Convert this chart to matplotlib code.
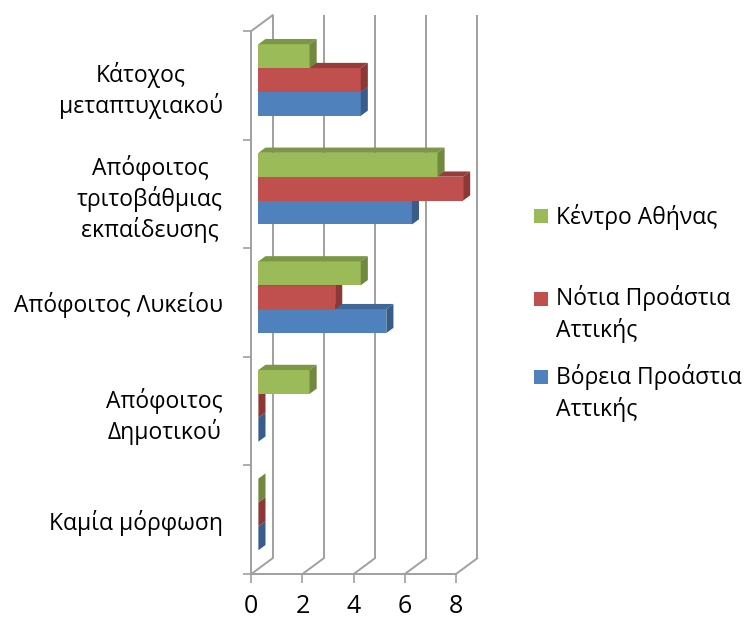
import matplotlib
matplotlib.use('Agg')
import matplotlib.pyplot as plt
from matplotlib.patches import Polygon, Rectangle
import numpy as np

plt.rcParams['font.family'] = ['Open Sans', 'DejaVu Sans']

# --- data -------------------------------------------------------------
categories = ["Καμία μόρφωση", "Απόφοιτος\nΔημοτικού", "Απόφοιτος Λυκείου",
              "Απόφοιτος\nτριτοβάθμιας\nεκπαίδευσης", "Κάτοχος\nμεταπτυχιακού"]
series_names = ["Βόρεια Προάστια\nΑττικής", "Νότια Προάστια\nΑττικής", "Κέντρο Αθήνας"]
north = [0, 0, 5, 6, 4]
south = [0, 0, 3, 8, 4]
centre = [0, 2, 4, 7, 2]
x_ticks = [0, 2, 4, 6, 8]

front_colors = ['#4F81BD', '#C0504D', '#9BBB59']
side_colors = ['#385D8A', '#8C3836', '#71893F']
top_colors = ['#3F6899', '#973C39', '#7B9645']

FS = 16.5
FS_X = 18
W, H = 747, 619
fig = plt.figure(figsize=(W / 100, H / 100), dpi=100)
ax = fig.add_axes([251.3 / W, 1 - 574 / H, (456 - 251.3) / W, (574 - 31) / H])
ax.set_xlim(0, 8)
ax.set_ylim(0, len(categories))

# 3-D depth of the walls (data units) and of the bars (middle third)
DX, DY = 0.832, 0.145
BX, BY = DX / 3, DY / 3
bar_h = 0.22
grid_c = '#A0A0A0'
ncat = len(categories)

# back wall gridlines and floor edges
for x in x_ticks:
    ax.plot([x + DX, x + DX], [DY, ncat + DY], color=grid_c, lw=1.4,
            clip_on=False, zorder=1, solid_capstyle='butt')
    ax.plot([x, x + DX], [0, DY], color=grid_c, lw=1.4, clip_on=False, zorder=1)
ax.plot([0, DX], [ncat, ncat + DY], color=grid_c, lw=1.4, clip_on=False, zorder=1)

for s in ['top', 'right']:
    ax.spines[s].set_visible(False)
for s in ['left', 'bottom']:
    ax.spines[s].set_color(grid_c)
    ax.spines[s].set_linewidth(1.4)
    ax.spines[s].set_zorder(1)

# bars: front face via barh, plus top and side faces for depth
ypos = np.arange(ncat) + 0.5
offsets = [-bar_h, 0.0, bar_h]
for k, vals in enumerate([north, south, centre]):
    yb = ypos + offsets[k] + BY
    bars = ax.barh(yb, vals, left=BX, height=bar_h, color=front_colors[k],
                   zorder=3 + k, clip_on=False, linewidth=0)
    for rect in bars:
        x0 = rect.get_x()
        x1 = x0 + rect.get_width()
        y0 = rect.get_y()
        y1 = y0 + rect.get_height()
        top = Polygon([(x0, y1), (x1, y1), (x1 + BX, y1 + BY), (x0 + BX, y1 + BY)],
                      closed=True, facecolor=top_colors[k], edgecolor='none',
                      zorder=3 + k, clip_on=False)
        side = Polygon([(x1, y0), (x1 + BX, y0 + BY), (x1 + BX, y1 + BY), (x1, y1)],
                       closed=True, facecolor=side_colors[k], edgecolor='none',
                       zorder=3 + k, clip_on=False)
        ax.add_patch(top)
        ax.add_patch(side)

# axes ticks and labels
ax.set_xticks(x_ticks)
ax.set_xticklabels([str(t) for t in x_ticks])
ax.tick_params(axis='x', length=6.3, width=1.2, color=grid_c, pad=8, labelsize=FS_X)
ax.set_yticks(range(ncat + 1))
ax.set_yticklabels([])
ax.tick_params(axis='y', which='major', length=5.8, width=1.2, color=grid_c)
ax.set_yticks(ypos, minor=True)
ax.set_yticklabels(categories, minor=True, ha='right', multialignment='center',
                   linespacing=1.25)
ax.tick_params(axis='y', which='minor', length=0, pad=20.5, labelsize=FS)

# legend (top to bottom: centre, south, north)
legend_rows = [(2, 209, 224.3), (1, 291.5, 305.0), (0, 370, 384.0)]
for k, sq_top, base in legend_rows:
    fig.patches.append(Rectangle((534 / W, 1 - (sq_top + 14) / H), 14 / W, 14 / H,
                                 transform=fig.transFigure, facecolor=front_colors[k],
                                 edgecolor='none'))
    for j, line in enumerate(series_names[k].split('\n')):
        fig.text(556 / W, 1 - (base + 32 * j) / H, line, fontsize=FS,
                 ha='left', va='baseline')

fig.savefig('out.png', dpi=100)
